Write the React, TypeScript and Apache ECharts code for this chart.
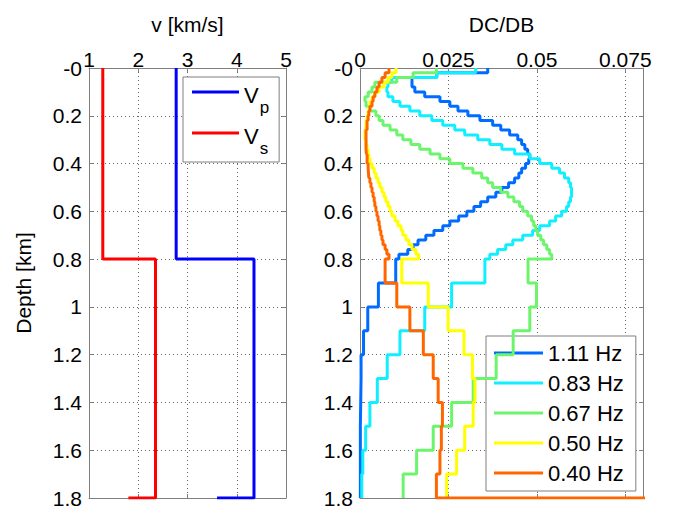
import React, { useEffect, useRef } from 'react';
import * as echarts from 'echarts';

const FONT = 'Liberation Sans, Arial, Helvetica, sans-serif';

// Velocity model (layers)
const V_LAYER_EDGES = [0, 0.8, 1.8];
const VP = [2.77, 4.35];
const VS = [1.28, 2.35];
const VP_BOTTOM = 3.6;
const VS_BOTTOM = 1.8;

// Sensitivity kernel layer edges (km)
const DEPTH_EDGES = [
  0, 0.02, 0.04, 0.06, 0.08, 0.1, 0.12, 0.14, 0.16, 0.18,
  0.2, 0.22, 0.24, 0.26, 0.28, 0.3, 0.32, 0.34, 0.36, 0.38,
  0.4, 0.42, 0.44, 0.46, 0.48, 0.5, 0.52, 0.54, 0.56, 0.58,
  0.6, 0.62, 0.64, 0.66, 0.68, 0.7, 0.72, 0.74, 0.76, 0.78,
  0.8, 0.9, 1.0, 1.1, 1.2, 1.3, 1.4, 1.5, 1.6, 1.7, 1.8,
];

const K_111 = [
  0.0361, 0.0217, 0.0147, 0.0147, 0.0155, 0.0183, 0.0226, 0.0254, 0.0277, 0.0305,
  0.0339, 0.0375, 0.0398, 0.0423, 0.0446, 0.0457, 0.0466, 0.0474, 0.048, 0.0477,
  0.0468, 0.0457, 0.0449, 0.0437, 0.042, 0.0401, 0.0384, 0.0361, 0.0341, 0.0322,
  0.0302, 0.0279, 0.0254, 0.0234, 0.0209, 0.0186, 0.0164, 0.015, 0.0135, 0.011,
  0.0101, 0.0052, 0.0022, 0.001, 0.0003, 0.0002, 0.0001, 0.0001, 0.0001, 0.0001,
];
const K_083 = [
  0.0327, 0.0217, 0.009, 0.0079, 0.0076, 0.0079, 0.0093, 0.0113, 0.0141, 0.0169,
  0.0203, 0.0234, 0.0268, 0.0296, 0.0333, 0.0367, 0.0401, 0.0437, 0.048, 0.0508,
  0.0542, 0.0564, 0.0578, 0.059, 0.0595, 0.0598, 0.0598, 0.0595, 0.059, 0.0584,
  0.057, 0.0553, 0.0536, 0.0508, 0.0488, 0.046, 0.0432, 0.0412, 0.0389, 0.0367,
  0.0353, 0.0259, 0.0183, 0.0113, 0.0077, 0.0049, 0.0028, 0.0016, 0.0008, 0.0005,
];
const K_067 = [
  0.0216, 0.015, 0.0104, 0.0042, 0.0034, 0.0023, 0.0014, 0.0017, 0.0028, 0.0045,
  0.0054, 0.0065, 0.0085, 0.0104, 0.0121, 0.0144, 0.0169, 0.0198, 0.0226, 0.0254,
  0.0291, 0.0319, 0.0344, 0.0361, 0.0375, 0.0398, 0.0418, 0.0435, 0.0451, 0.046,
  0.0474, 0.0485, 0.0491, 0.0497, 0.0502, 0.0511, 0.0519, 0.0528, 0.0536, 0.0542,
  0.0475, 0.0499, 0.048, 0.0433, 0.0385, 0.032, 0.0259, 0.0207, 0.016, 0.0122,
];
const K_050 = [
  0.0102, 0.009, 0.0079, 0.0068, 0.0054, 0.0042, 0.0034, 0.0028, 0.0025, 0.0023,
  0.002, 0.0017, 0.0016, 0.0014, 0.0014, 0.0017, 0.002, 0.0023, 0.0025, 0.0028,
  0.0034, 0.004, 0.0045, 0.0051, 0.0056, 0.0062, 0.0068, 0.0073, 0.0079, 0.0085,
  0.009, 0.0099, 0.0107, 0.0116, 0.0121, 0.013, 0.0138, 0.0147, 0.0158, 0.0166,
  0.0118, 0.0193, 0.0249, 0.0294, 0.0318, 0.0325, 0.032, 0.0296, 0.0273, 0.0245,
];
const K_040 = [
  0.0082, 0.0071, 0.0062, 0.0054, 0.0048, 0.0042, 0.0037, 0.0034, 0.0028, 0.0025,
  0.0023, 0.002, 0.002, 0.0017, 0.0017, 0.0017, 0.0017, 0.0018, 0.002, 0.002,
  0.0023, 0.0024, 0.0025, 0.0028, 0.0031, 0.0034, 0.0037, 0.004, 0.0042, 0.0045,
  0.0048, 0.0051, 0.0054, 0.0056, 0.0059, 0.0062, 0.0065, 0.0071, 0.0076, 0.0082,
  0.0071, 0.0104, 0.0141, 0.0179, 0.0207, 0.0221, 0.0233, 0.023, 0.0226, 0.0216,
];
const K_040_BOTTOM = 0.09;

const FREQ_NAMES = ['1.11 Hz', '0.83 Hz', '0.67 Hz', '0.50 Hz', '0.40 Hz'];
const FREQ_COLORS = ['#006CFF', '#11EEFF', '#6CF56C', '#FFFF00', '#FF6600'];
const KERNELS = [K_111, K_083, K_067, K_050, K_040];

const V_TICKS = { min: 1, max: 5, interval: 1, showMax: true };
const K_TICKS = { min: 0, max: 0.08, interval: 0.025, showMax: false };
const DEPTH_TICKS = { min: 0, max: 1.8, interval: 0.2 };

function stairs(vals: number[], edges: number[], bottom?: number) {
  const pts: number[][] = [];
  vals.forEach((v, i) => {
    pts.push([v, edges[i]]);
    pts.push([v, edges[i + 1]]);
  });
  if (bottom !== undefined) pts.push([bottom, edges[edges.length - 1]]);
  return pts;
}

const AX = '#7f7f7f';
const GRIDLINE = { show: true, lineStyle: { color: '#666', type: [1, 3], width: 1 } };

function xAx(gridIndex: number, ticks: any, primary: boolean, name?: string) {
  return {
    type: 'value',
    gridIndex,
    position: primary ? 'top' : 'bottom',
    min: ticks.min,
    max: ticks.max,
    interval: ticks.interval,
    name: primary ? name : undefined,
    nameLocation: 'middle',
    nameGap: 36,
    nameMoveOverlap: false,
    nameTextStyle: { fontSize: 21, lineHeight: 15, color: '#000', fontFamily: FONT },
    axisLine: { show: true, onZero: false, lineStyle: { color: AX, width: 1 } },
    axisTick: { show: true, inside: true, length: 4, lineStyle: { color: AX } },
    axisLabel: {
      show: primary,
      fontSize: 21,
      color: '#000',
      fontFamily: FONT,
      margin: -2,
      showMaxLabel: ticks.showMax,
    },
    splitLine: primary ? GRIDLINE : { show: false },
  };
}

function yAx(gridIndex: number, primary: boolean, name?: string) {
  return {
    type: 'value',
    gridIndex,
    inverse: true,
    position: primary ? 'left' : 'right',
    min: DEPTH_TICKS.min,
    max: DEPTH_TICKS.max,
    interval: DEPTH_TICKS.interval,
    name: primary ? name : undefined,
    nameLocation: 'middle',
    nameGap: 55,
    nameTextStyle: { fontSize: 21, color: '#000', fontFamily: FONT },
    axisLine: { show: true, onZero: false, lineStyle: { color: AX, width: 1 } },
    axisTick: { show: true, inside: true, length: 4, lineStyle: { color: AX } },
    axisLabel: {
      show: primary,
      fontSize: 21,
      color: '#000',
      fontFamily: FONT,
      margin: 7,
      formatter: (v: number) => (v === 0 ? '-0' : String(parseFloat(v.toFixed(2)))),
    },
    splitLine: primary ? GRIDLINE : { show: false },
  };
}

export default function App() {
  const ref = useRef<HTMLDivElement>(null);
  useEffect(() => {
    if (!ref.current) return;
    const chart = echarts.init(ref.current, undefined, { renderer: 'svg' });
    const kernelSeries = KERNELS.map((k, i) => ({
      name: FREQ_NAMES[i],
      type: 'line',
      xAxisIndex: 2,
      yAxisIndex: 2,
      data: stairs(k, DEPTH_EDGES, i === 4 ? K_040_BOTTOM : undefined),
      symbol: 'none',
      clip: true,
      lineStyle: { color: FREQ_COLORS[i], width: 3 },
      itemStyle: { color: FREQ_COLORS[i] },
      z: 3 + i,
    }));
    chart.setOption({
      animation: false,
      textStyle: { fontFamily: FONT },
      grid: [
        { left: 89, top: 68, width: 197, height: 430 },
        { left: 360, top: 68, width: 283, height: 430 },
      ],
      xAxis: [
        xAx(0, V_TICKS, true, 'v [km/s]'),
        xAx(0, V_TICKS, false),
        xAx(1, K_TICKS, true, 'DC/DB'),
        xAx(1, K_TICKS, false),
      ],
      yAxis: [yAx(0, true, 'Depth [km]'), yAx(0, false), yAx(1, true), yAx(1, false)],
      legend: [
        {
          data: ['Vp', 'Vs'],
          orient: 'vertical',
          left: 183,
          top: 77,
          padding: [4, 10, 5, 9],
          itemGap: 6,
          itemWidth: 47,
          itemHeight: 3,
          icon: 'rect',
          backgroundColor: '#fff',
          borderColor: AX,
          borderWidth: 1,
          borderRadius: 0,
          formatter: (name: string) => (name === 'Vp' ? '{v|V}{s|p}' : '{v|V}{s|s}'),
          textStyle: {
            fontFamily: FONT,
            color: '#000',
            rich: {
              v: { fontSize: 22, lineHeight: 22, padding: [3, 0, 0, 0], verticalAlign: 'top', fontFamily: FONT, color: '#000' },
              s: { fontSize: 17, lineHeight: 17, padding: [18, 0, 0, 1], verticalAlign: 'top', fontFamily: FONT, color: '#000' },
            },
          },
        },
        {
          data: FREQ_NAMES,
          orient: 'vertical',
          left: 486,
          top: 336,
          padding: [6, 12, 7, 8],
          itemGap: 8,
          itemWidth: 49,
          itemHeight: 3,
          icon: 'rect',
          backgroundColor: '#fff',
          borderColor: AX,
          borderWidth: 1,
          borderRadius: 0,
          textStyle: { fontSize: 22, lineHeight: 22, color: '#000', fontFamily: FONT },
        },
      ],
      series: [
        {
          name: 'Vp',
          type: 'line',
          xAxisIndex: 0,
          yAxisIndex: 0,
          data: stairs(VP, V_LAYER_EDGES, VP_BOTTOM),
          symbol: 'none',
          lineStyle: { color: '#0000FF', width: 3 },
          itemStyle: { color: '#0000FF' },
        },
        {
          name: 'Vs',
          type: 'line',
          xAxisIndex: 0,
          yAxisIndex: 0,
          data: stairs(VS, V_LAYER_EDGES, VS_BOTTOM),
          symbol: 'none',
          lineStyle: { color: '#FF0000', width: 3 },
          itemStyle: { color: '#FF0000' },
        },
        ...kernelSeries,
      ],
    });
    return () => chart.dispose();
  }, []);
  return (
    <div
      ref={ref}
      style={{ position: 'fixed', left: 0, top: 0, width: 675, height: 509, background: '#fff' }}
    />
  );
}
